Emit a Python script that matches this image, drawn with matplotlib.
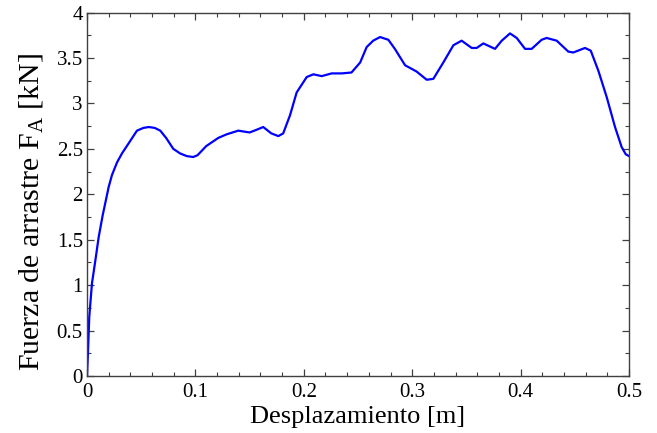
import matplotlib
matplotlib.use("Agg")
import matplotlib.pyplot as plt
from matplotlib.ticker import MultipleLocator

# Data
desplazamiento = [0.0, 0.0009, 0.0021, 0.0046, 0.0077, 0.0108, 0.0145, 0.020, 0.023,
                  0.0277, 0.0323, 0.0384, 0.0461, 0.052, 0.057, 0.0625, 0.0676, 0.0730,
                  0.0796, 0.0858, 0.092, 0.098, 0.102, 0.110, 0.1211, 0.1289, 0.1396,
                  0.150, 0.1565, 0.1626, 0.170, 0.1765, 0.181, 0.1873, 0.1934, 0.2027,
                  0.2088, 0.2165, 0.2257, 0.235, 0.244, 0.252, 0.258, 0.264, 0.2703,
                  0.278, 0.284, 0.2934, 0.3041, 0.3134, 0.3195, 0.3287, 0.338, 0.3456,
                  0.3549, 0.3595, 0.3656, 0.3764, 0.3826, 0.3902, 0.3964, 0.4041, 0.4102,
                  0.4194, 0.424, 0.4333, 0.444, 0.4486, 0.4594, 0.4647, 0.4717, 0.4794,
                  0.4871, 0.4932, 0.4970, 0.5]
fuerza = [0.0, 0.25, 0.65, 1.02, 1.27, 1.53, 1.77, 2.08, 2.21,
          2.35, 2.45, 2.56, 2.70, 2.73, 2.74, 2.73, 2.70, 2.62,
          2.50, 2.45, 2.42, 2.41, 2.43, 2.53, 2.62, 2.66, 2.70,
          2.68, 2.71, 2.74, 2.67, 2.64, 2.67, 2.87, 3.12, 3.29,
          3.32, 3.30, 3.33, 3.33, 3.34, 3.45, 3.62, 3.69, 3.73,
          3.70, 3.60, 3.42, 3.35, 3.26, 3.27, 3.45, 3.64, 3.69,
          3.61, 3.61, 3.66, 3.60, 3.69, 3.77, 3.72, 3.60, 3.60,
          3.70, 3.72, 3.69, 3.57, 3.56, 3.61, 3.58, 3.36, 3.07,
          2.74, 2.52, 2.44, 2.42]
xticks = [0, 0.1, 0.2, 0.3, 0.4, 0.5]
xticklabels = ['0', '0.1', '0.2', '0.3', '0.4', '0.5']
yticks = [0, 0.5, 1, 1.5, 2, 2.5, 3, 3.5, 4]
yticklabels = ['0', '0.5', '1', '1.5', '2', '2.5', '3', '3.5', '4']

plt.rcParams['font.family'] = ['Liberation Serif', 'DejaVu Serif']
plt.rcParams['mathtext.fontset'] = 'custom'
plt.rcParams['mathtext.rm'] = 'Liberation Serif'
plt.rcParams['mathtext.it'] = 'Liberation Serif'

fig = plt.figure(figsize=(6.57, 4.33), dpi=100)
ax = fig.add_axes([0.1324, 0.1316, 0.8250, 0.8395])
ax.plot(desplazamiento, fuerza, color='#0000ff', linewidth=1.6)

ax.set_xlim(0, 0.5)
ax.set_ylim(0, 4)
ax.set_xticks(xticks)
ax.set_xticklabels(xticklabels)
ax.set_yticks(yticks)
ax.set_yticklabels(yticklabels)
ax.xaxis.set_minor_locator(MultipleLocator(0.02))
ax.yaxis.set_minor_locator(MultipleLocator(0.25))

ax.tick_params(which='both', direction='in', top=True, right=True,
               color='#404040', labelsize=15)
ax.tick_params(axis='x', which='major', pad=5)
ax.tick_params(axis='y', which='major', pad=3)
ax.tick_params(which='major', length=5, width=0.9)
ax.tick_params(which='minor', length=3, width=0.8)
for s in ax.spines.values():
    s.set_color('#404040')
    s.set_linewidth(1.0)

ax.set_xlabel('Desplazamiento [m]', fontsize=19, labelpad=3)
ax.set_ylabel(r'Fuerza de arrastre F$_\mathrm{A}$ [kN]', fontsize=21.5)
ax.yaxis.set_label_coords(-0.077, 0.45)

fig.savefig('out.png', dpi=100)
